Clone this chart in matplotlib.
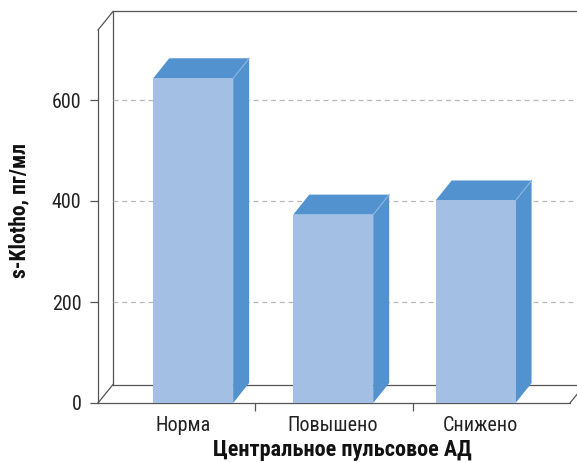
import matplotlib.pyplot as plt
from matplotlib.patches import Polygon

categories = ['Норма', 'Повышено', 'Снижено']
values = [643, 373, 401]
yticks = [0, 200, 400, 600]

plt.rcParams['font.family'] = ['Roboto Condensed', 'PT Sans Narrow', 'DejaVu Sans']

fig = plt.figure(figsize=(5.77, 4.62), dpi=100)
W, H = 577, 462
ax = fig.add_axes([98 / W, (H - 403) / H, 472 / W, 373 / H])
ymax = 373 * 200 / 101
ax.set_xlim(0, 3)
ax.set_ylim(0, ymax)

px_x = 3 / 472          # category units per pixel
px_y = ymax / 373       # value units per pixel

# depth offsets of the box walls and of the bars
wdx, wdy = 15 * px_x, 18.5 * px_y
bdx, bdy = 16 * px_x, 20 * px_y

line_kw = dict(color='#555555', lw=0.9, clip_on=False, zorder=1)
ax.plot([wdx, wdx], [wdy, ymax + wdy], **line_kw)
ax.plot([0, wdx], [ymax, ymax + wdy], **line_kw)
ax.plot([wdx, 3.2], [ymax + wdy, ymax + wdy], **line_kw)
ax.plot([wdx, 3 + wdx], [wdy, wdy], **line_kw)
ax.plot([0, wdx], [0, wdy], **line_kw)
ax.plot([3, 3 + wdx], [0, wdy], **line_kw)

for v in yticks[1:]:
    ax.plot([wdx, 3.2], [v, v], color='#b8b8b8', lw=0.9, ls=(0, (4, 3)),
            clip_on=False, zorder=1)

front_c = '#a4bfe4'
dark_c = '#5192cf'
lefts = [0.351, 1.241, 2.146]
bw = 0.508
for x0, v in zip(lefts, values):
    x1 = x0 + bw
    side = Polygon([(x1, 0), (x1 + bdx, bdy), (x1 + bdx, v + bdy), (x1, v)],
                   closed=True, fc=dark_c, ec='none', zorder=3, clip_on=False)
    top = Polygon([(x0, v), (x0 + bdx, v + bdy), (x1 + bdx, v + bdy), (x1, v)],
                  closed=True, fc=dark_c, ec='none', zorder=3, clip_on=False)
    front = Polygon([(x0, 0), (x1, 0), (x1, v), (x0, v)],
                    closed=True, fc=front_c, ec='none', zorder=4, clip_on=False)
    for p in (side, top, front):
        ax.add_patch(p)
    ax.plot([x1, x1 + bdx], [v, v + bdy], color='#8fb4e0', lw=0.8,
            zorder=5, clip_on=False)

for s in ('top', 'right'):
    ax.spines[s].set_visible(False)
for s in ('left', 'bottom'):
    ax.spines[s].set_color('#555555')
    ax.spines[s].set_linewidth(0.9)

ax.set_yticks(yticks)
ax.tick_params(axis='y', length=6, width=0.9, color='#555555',
               labelsize=14.5, pad=6, labelcolor='#222222')
ax.set_xticks([1, 2])
ax.set_xticklabels([])
ax.tick_params(axis='x', length=6, width=0.9, color='#555555')

label_x = [(182.7 - 98) / 157.33, (333 - 98) / 157.33, (480 - 98) / 157.33]
for lx, name in zip(label_x, categories):
    ax.text(lx, -13 * px_y, name, ha='center', va='top', fontsize=14.5,
            color='#222222')

fig.text(342 / W, (H - 450) / H, 'Центральное пульсовое АД', ha='center',
         va='center', fontsize=16, fontweight='bold', color='#111111')
fig.text(19.5 / W, (H - 210.5) / H, 's-Klotho, пг/мл', ha='center',
         va='center', rotation=90, fontsize=15.5, fontweight='bold',
         color='#111111')

fig.savefig('out.png', dpi=100)
